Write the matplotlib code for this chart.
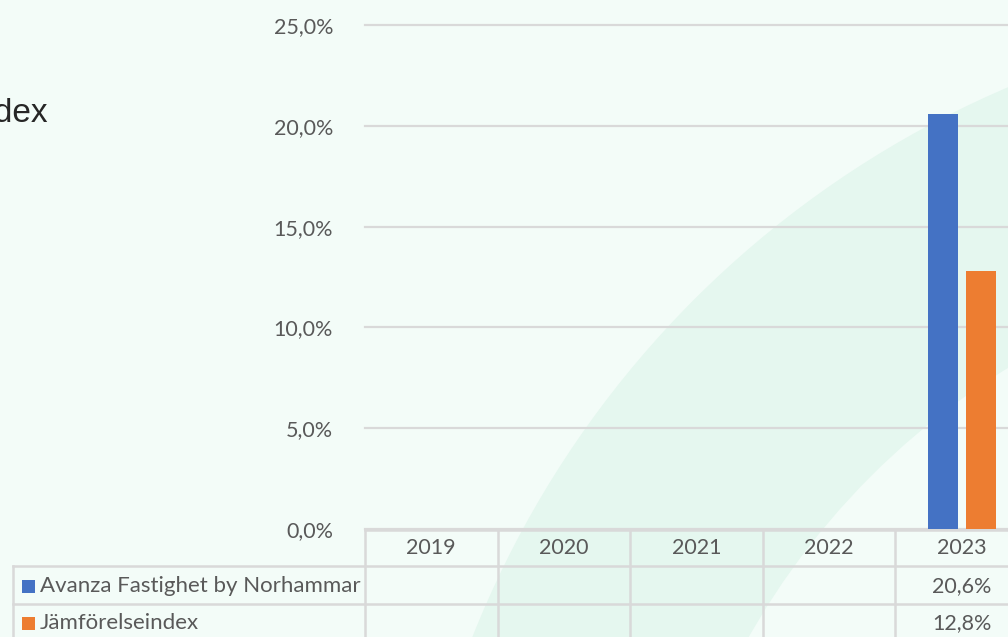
import numpy as np
import matplotlib
matplotlib.use("Agg")
import matplotlib.pyplot as plt
from matplotlib.patches import Wedge, Rectangle
from matplotlib.transforms import blended_transform_factory

# ---- data ----
years = ["2019", "2020", "2021", "2022", "2023"]
fund_name = "Avanza Fastighet by Norhammar"
index_name = "Jämförelseindex"
fund_vals = [np.nan, np.nan, np.nan, np.nan, 20.6]
index_vals = [np.nan, np.nan, np.nan, np.nan, 12.8]
yticks = [0, 5, 10, 15, 20, 25]
title = "Index"

BLUE = "#4472C4"
ORANGE = "#ED7D31"
BG = "#F3FCF8"
BAND = "#E5F7EF"
GRID = "#D9D9D9"
TXT = "#595959"
FONT = ["Lato", "DejaVu Sans"]
NUM_FS = 15.5
LBL_FS = 16

W, H = 1008, 637
fig = plt.figure(figsize=(W / 100, H / 100), dpi=100, facecolor=BG)

# background decoration
bg = fig.add_axes([0, 0, 1, 1], zorder=-10)
bg.set_xlim(0, W)
bg.set_ylim(H, 0)
bg.axis("off")
bg.add_patch(Wedge((1400, 1005), 998, 150, 300, width=250, facecolor=BAND, edgecolor="none"))

# main axes: x from px 365 to 1008, y from px 25 (25%) to 529 (0%)
x0, x1 = 365, 1008
y_top, y_bot = 25, 529
ax = fig.add_axes([x0 / W, 1 - y_bot / H, (x1 - x0) / W, (y_bot - y_top) / H])
ax.set_facecolor("none")
colw = 132.6
ax.set_xlim(-0.5, -0.5 + (x1 - x0) / colw)
ax.set_ylim(0, 25)

xs = np.arange(len(years))
bw = 0.226
ax.bar(xs - 0.138, fund_vals, width=bw, color=BLUE, zorder=3)
ax.bar(xs + 0.142, index_vals, width=bw, color=ORANGE, zorder=3)

ax.set_yticks(yticks)
ax.set_yticklabels([f"{v:.1f}%".replace(".", ",") for v in yticks], fontsize=NUM_FS,
                   color=TXT, family=FONT)
ax.tick_params(axis="y", length=0, pad=23)
ax.set_xticks([])
for s in ax.spines.values():
    s.set_visible(False)
ax.yaxis.grid(True, color=GRID, linewidth=1.6, zorder=0)
for gl in ax.get_ygridlines():
    gl.set_clip_on(False)
ax.set_axisbelow(True)

# ---- data table below the axis ----
tr = blended_transform_factory(ax.transData, fig.transFigure)
def fy(px):
    return 1 - px / H

line_kw = dict(color=GRID, linewidth=1.8, clip_on=False)
ax.plot([-0.5, 6], [fy(530)] * 2, transform=tr, **line_kw)
for yy in [566, 604]:
    fig.add_artist(plt.Line2D([13 / W, 1], [fy(yy)] * 2, transform=fig.transFigure,
                              color=GRID, linewidth=1.8))
fig.add_artist(plt.Line2D([13 / W, 13 / W], [fy(566), 0], transform=fig.transFigure,
                          color=GRID, linewidth=1.8))
for i in range(len(years) + 1):
    ax.plot([i - 0.5] * 2, [fy(530), 0], transform=tr, **line_kw)

for i, yr in enumerate(years):
    ax.text(i, fy(548), yr, transform=tr, ha="center", va="center", fontsize=NUM_FS,
            color=TXT, family=FONT)
    if not np.isnan(fund_vals[i]):
        ax.text(i, fy(586), f"{fund_vals[i]:.1f}%".replace(".", ","), transform=tr,
                ha="center", va="center", fontsize=NUM_FS, color=TXT, family=FONT)
    if not np.isnan(index_vals[i]):
        ax.text(i, fy(623), f"{index_vals[i]:.1f}%".replace(".", ","), transform=tr,
                ha="center", va="center", fontsize=NUM_FS, color=TXT, family=FONT)

# legend keys in table
for name, col, yy in [(fund_name, BLUE, 586), (index_name, ORANGE, 623)]:
    fig.add_artist(Rectangle((22 / W, fy(yy + 7)), 13 / W, 13 / H, transform=fig.transFigure,
                             facecolor=col, edgecolor="none"))
    fig.text(40 / W, fy(yy), name, ha="left", va="center", fontsize=LBL_FS, color=TXT, family=FONT)

# title (cropped at left edge, as in the reference)
fig.text(49 / W, fy(113), title, ha="right", va="center", fontsize=24, color="#262626",
         family=["Liberation Sans", "DejaVu Sans"])

fig.savefig("out.png", dpi=100, facecolor=BG)
